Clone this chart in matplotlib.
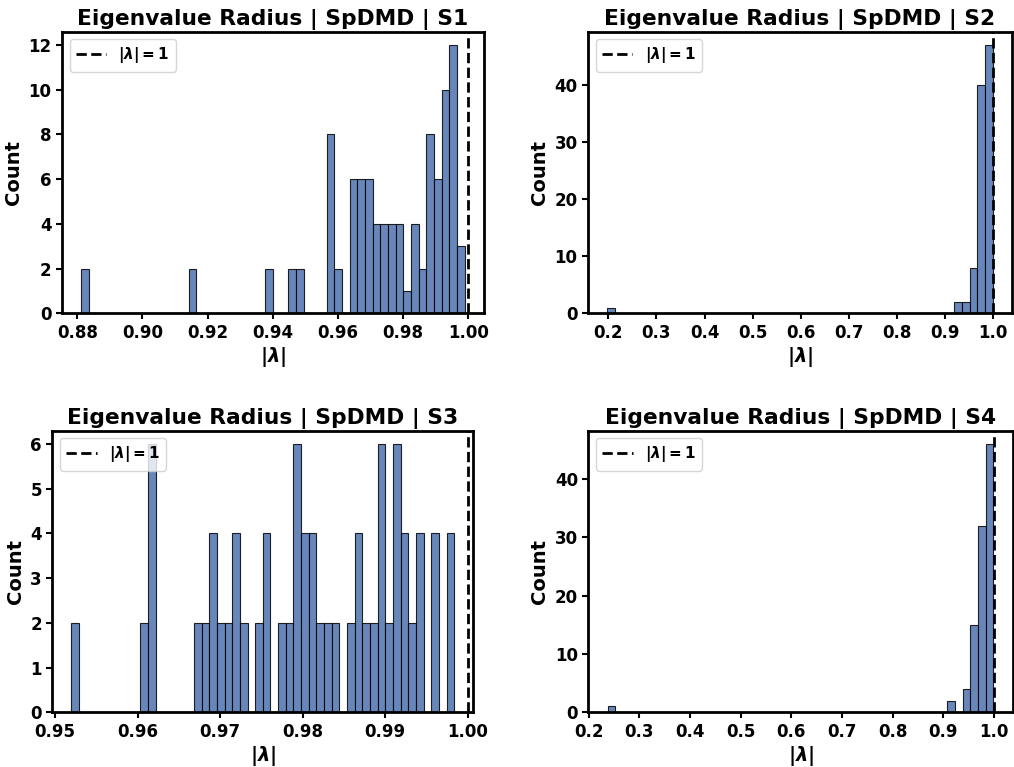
import matplotlib
matplotlib.use("Agg")
import matplotlib.pyplot as plt
import numpy as np

# histogram counts per bin (50 bins each)
s1_range = (0.8812, 0.9989)
s1_counts = [2, 0, 0, 0, 0, 0, 0, 0, 0, 0,
             0, 0, 0, 0, 2, 0, 0, 0, 0, 0,
             0, 0, 0, 0, 2, 0, 0, 2, 2, 0,
             0, 0, 8, 2, 0, 6, 6, 6, 4, 4,
             4, 4, 1, 4, 2, 8, 6, 10, 12, 3]

s2_range = (0.198, 0.9988)
s2_counts = [1] + [0] * 44 + [2, 2, 8, 40, 47]

s3_range = (0.95198, 0.99835)
s3_counts = [2, 0, 0, 0, 0, 0, 0, 0, 0, 2,
             6, 0, 0, 0, 0, 0, 2, 2, 4, 2,
             2, 4, 2, 0, 2, 4, 0, 2, 2, 6,
             4, 4, 2, 2, 2, 0, 2, 4, 2, 2,
             6, 2, 6, 4, 2, 4, 0, 4, 0, 4]

s4_range = (0.2375, 0.9988)
s4_counts = [1] + [0] * 43 + [2, 0, 4, 15, 32, 46]

s1_xticks = [0.88, 0.90, 0.92, 0.94, 0.96, 0.98, 1.00]
s2_xticks = [0.2, 0.3, 0.4, 0.5, 0.6, 0.7, 0.8, 0.9, 1.0]
s3_xticks = [0.95, 0.96, 0.97, 0.98, 0.99, 1.00]
s4_xticks = s2_xticks

panels = [
    ("S1", s1_range, s1_counts, s1_xticks, "{:.2f}", range(0, 13, 2)),
    ("S2", s2_range, s2_counts, s2_xticks, "{:.1f}", range(0, 41, 10)),
    ("S3", s3_range, s3_counts, s3_xticks, "{:.2f}", range(0, 7, 1)),
    ("S4", s4_range, s4_counts, s4_xticks, "{:.1f}", range(0, 41, 10)),
]

# axes boxes [left, bottom, width, height] in figure fractions
boxes = [
    [0.0611, 0.5915, 0.4162, 0.3672],
    [0.5799, 0.5915, 0.4181, 0.3672],
    [0.0516, 0.0713, 0.4152, 0.3672],
    [0.5802, 0.0713, 0.4186, 0.3672],
]

plt.rcParams.update({
    "font.family": "DejaVu Sans",
    "font.weight": "bold",
    "axes.labelweight": "bold",
    "axes.titleweight": "bold",
    "axes.linewidth": 2.0,
    "xtick.major.width": 1.5,
    "ytick.major.width": 1.5,
    "xtick.major.size": 4,
    "ytick.major.size": 4,
    # bold maths: upright bold for digits/symbols, bold italic for letters
    "mathtext.fontset": "custom",
    "mathtext.rm": "DejaVu Sans:bold",
    "mathtext.it": "DejaVu Sans:bold:italic",
    "mathtext.bf": "DejaVu Sans:bold",
})

fig = plt.figure(figsize=(10.14, 7.67), dpi=100)

for box, (name, (lo, hi), counts, xticks, fmt, yticks) in zip(boxes, panels):
    ax = fig.add_axes(box)
    edges = np.linspace(lo, hi, len(counts) + 1)
    ax.hist(edges[:-1], bins=edges, weights=counts, color="#4c72b0",
            alpha=0.85, edgecolor="black", linewidth=0.8)
    ax.axvline(1.0, color="black", linestyle="--", linewidth=2,
               label=r"$|\lambda| = 1$")
    ax.set_title(f"Eigenvalue Radius | SpDMD | {name}", fontsize=15.7, fontweight="bold", pad=5)
    ax.set_xlabel(r"$|\lambda|$", fontsize=14, labelpad=2)
    ax.set_ylabel("Count", fontsize=14, fontweight="bold")
    ax.set_xticks(xticks)
    ax.set_xticklabels([fmt.format(t) for t in xticks])
    ax.set_yticks(list(yticks))
    ax.tick_params(labelsize=12)
    for lab in ax.get_xticklabels() + ax.get_yticklabels():
        lab.set_fontweight("bold")
    ax.legend(loc="upper left", prop={"weight": "bold", "size": 11})

plt.savefig("out.png", dpi=100)
